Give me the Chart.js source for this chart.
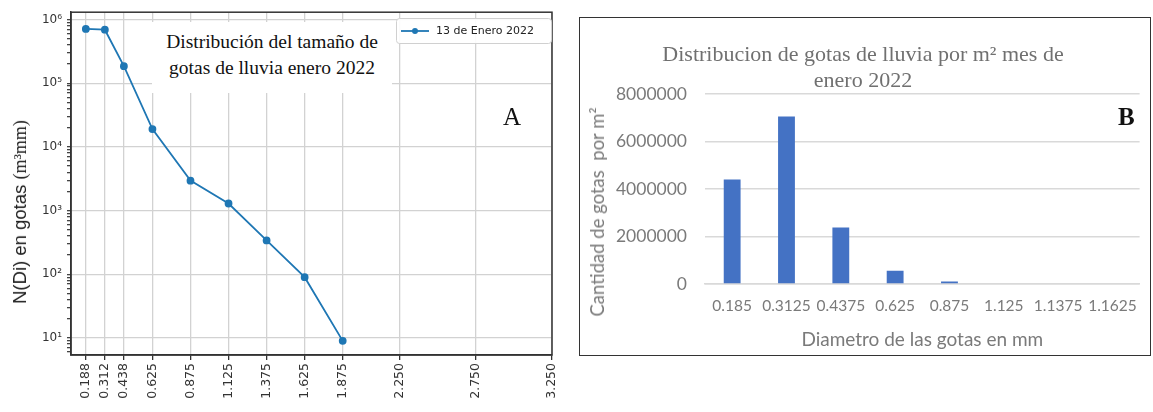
<!DOCTYPE html>
<html>
<head>
<meta charset="utf-8">
<script src="https://cdn.jsdelivr.net/npm/chart.js@4.4.1/dist/chart.umd.min.js"></script>
<style>
  html, body { margin: 0; padding: 0; background: #fff; }
  body { width: 1153px; height: 412px; position: relative; overflow: hidden; }
  #wrapA { position: absolute; left: 0; top: 0; width: 570px; height: 412px; }
  #wrapB { position: absolute; left: 579px; top: 17px; width: 572px; height: 339px;
           border: 1px solid #333; box-sizing: border-box; }
  #wrapB canvas { display: block; }
  .note { position: absolute; background: #fff; text-align: center; color: #111;
          font-family: "Liberation Serif", serif; }
  #titleA { left: 152px; top: 22px; width: 240px; height: 71px; font-size: 19.5px; line-height: 26px;
            padding-top: 7px; box-sizing: border-box; }
  #tagA { left: 503px; top: 103px; font-size: 25px; background: transparent; }
  #tagB { left: 1118px; top: 103px; font-size: 25px; font-weight: bold; background: transparent; }
  #yTitleA { position: absolute; left: 20px; top: 212px; white-space: nowrap; color: #222;
             transform: translate(-50%, -50%) rotate(-90deg); }
  #yTitleA .s { font-family: "Liberation Sans", sans-serif; font-size: 18.5px; }
  #yTitleA .r { font-family: "Liberation Serif", serif; font-size: 18px; }
  #yTitleB { position: absolute; left: 597px; top: 212px; color: #7a7a7a;
             font-family: Lato, sans-serif; font-size: 18.5px; white-space: pre;
             transform: translate(-50%, -50%) rotate(-90deg); }
</style>
</head>
<body>
<div id="wrapA"><canvas id="chartA" width="570" height="412"></canvas></div>
<div id="wrapB"><canvas id="chartB" width="570" height="337"></canvas></div>
<div class="note" id="titleA">Distribución del tamaño de<br>gotas de lluvia enero 2022</div>
<div class="note" id="tagA">A</div>
<div class="note" id="tagB">B</div>
<div id="yTitleA"><span class="s">N(Di) en gotas </span><span class="r">(m³mm)</span></div>
<div id="yTitleB">Cantidad de gotas  por m²</div>
<script>
// Panel A: drop size distribution, 13 January 2022 (log scale)
const diametersA = [0.1875, 0.3125, 0.4375, 0.625, 0.875, 1.125, 1.375, 1.625, 1.875];
const dropsA = [710000, 690000, 185000, 19000, 2950, 1290, 340, 90, 9];
const xTickValuesA = [0.1875, 0.3125, 0.4375, 0.625, 0.875, 1.125, 1.375, 1.625, 1.875, 2.25, 2.75, 3.25];
const xTickLabelsA = ['0.188', '0.312', '0.438', '0.625', '0.875', '1.125', '1.375', '1.625', '1.875', '2.250', '2.750', '3.250'];
const seriesLabelA = '13 de Enero 2022';

// Panel B: drops per m² for January 2022
const diametersB = ['0.185', '0.3125', '0.4375', '0.625', '0.875', '1.125', '1.1375', '1.1625'];
const dropsB = [4400000, 7050000, 2380000, 560000, 110000, 30000, 0, 0];
const yTickStepB = 2000000;
const yMaxB = 8000000;

const lineBlue = '#1f77b4';
const SUP = {'0':'⁰','1':'¹','2':'²','3':'³','4':'⁴','5':'⁵','6':'⁶','7':'⁷','8':'⁸','9':'⁹'};
const isDecade = v => Math.abs(Math.log10(v) - Math.round(Math.log10(v))) < 1e-9;

// log ticks: decades plus 2..9 multiples inside the axis range
const yMinA = 5.4, yMaxA = 1.3e6;
const yTicksA = [];
for (let e = 0; e <= 6; e++) {
  for (let m = 1; m <= 9; m++) {
    const v = m * Math.pow(10, e);
    if (v >= yMinA && v <= yMaxA) yTicksA.push(v);
  }
}

const framePlugin = {
  id: 'frame',
  afterDatasetsDraw(chart) {
    const { ctx, chartArea: a } = chart;
    ctx.save();
    ctx.strokeStyle = '#333';
    ctx.lineWidth = 1.5;
    ctx.strokeRect(a.left, a.top, a.right - a.left, a.bottom - a.top);
    ctx.restore();
  }
};

const boxLegendPlugin = {
  id: 'boxLegend',
  afterDraw(chart) {
    const { ctx } = chart;
    const ds = chart.data.datasets[0];
    const x = 396, y = 18, w = 155, h = 25;
    ctx.save();
    ctx.fillStyle = 'rgba(255,255,255,0.9)';
    ctx.strokeStyle = '#d0d0d0';
    ctx.lineWidth = 1;
    ctx.beginPath();
    ctx.roundRect(x + 0.5, y + 0.5, w, h, 3);
    ctx.fill();
    ctx.stroke();
    const cy = y + h / 2 + 0.5;
    ctx.strokeStyle = ds.borderColor;
    ctx.lineWidth = 1.8;
    ctx.beginPath();
    ctx.moveTo(x + 5, cy);
    ctx.lineTo(x + 33, cy);
    ctx.stroke();
    ctx.fillStyle = ds.borderColor;
    ctx.beginPath();
    ctx.arc(x + 19, cy, 3, 0, Math.PI * 2);
    ctx.fill();
    ctx.fillStyle = '#222';
    ctx.font = '11px "DejaVu Sans"';
    ctx.textBaseline = 'middle';
    ctx.fillText(ds.label, x + 40, cy);
    ctx.restore();
  }
};

new Chart(document.getElementById('chartA'), {
  type: 'line',
  data: {
    datasets: [{
      label: seriesLabelA,
      data: diametersA.map((d, i) => ({ x: d, y: dropsA[i] })),
      borderColor: lineBlue,
      backgroundColor: lineBlue,
      borderWidth: 1.8,
      pointRadius: 3,
      pointHoverRadius: 3,
      pointStyle: 'circle',
      tension: 0,
      fill: false
    }]
  },
  options: {
    responsive: false,
    animation: false,
    events: [],
    layout: { padding: { top: 11, right: 14, left: 0, bottom: 0 } },
    plugins: { legend: { display: false }, tooltip: { enabled: false } },
    scales: {
      x: {
        type: 'linear',
        min: 0.09,
        max: 3.25,
        afterBuildTicks: s => { s.ticks = xTickValuesA.map(v => ({ value: v })); },
        afterFit: s => { s.height = 57; },
        ticks: {
          autoSkip: false, minRotation: 90, maxRotation: 90, padding: 3,
          color: '#333', font: { family: 'DejaVu Sans', size: 12.5 },
          callback: (v, i) => xTickLabelsA[i]
        },
        grid: { color: '#d2d2d2', lineWidth: 1.3, tickColor: '#333', tickLength: 5 },
        border: { display: true, color: '#333', width: 1.5 }
      },
      y: {
        type: 'logarithmic',
        min: yMinA,
        max: yMaxA,
        afterBuildTicks: s => { s.ticks = yTicksA.map(v => ({ value: v })); },
        afterFit: s => { s.width = 71; },
        ticks: {
          autoSkip: false, padding: 5, color: '#333',
          font: { family: 'DejaVu Sans', size: 12 },
          callback: v => isDecade(v)
            ? '10' + String(Math.round(Math.log10(v))).split('').map(c => SUP[c]).join('')
            : ''
        },
        grid: {
          color: c => (c.tick && isDecade(c.tick.value)) ? '#d2d2d2' : 'rgba(0,0,0,0)',
          lineWidth: 1.3,
          tickColor: '#444',
          tickLength: 4
        },
        border: { display: true, color: '#333', width: 1.5 }
      }
    }
  },
  plugins: [framePlugin, boxLegendPlugin]
});

const greyText = '#7a7a7a';
new Chart(document.getElementById('chartB'), {
  type: 'bar',
  data: {
    labels: diametersB,
    datasets: [{
      data: dropsB,
      backgroundColor: '#4472c4',
      borderWidth: 0,
      barPercentage: 0.31,
      categoryPercentage: 1
    }]
  },
  options: {
    responsive: false,
    animation: false,
    events: [],
    layout: { padding: { left: 0, right: 4, top: 0, bottom: 0 } },
    plugins: {
      legend: { display: false },
      tooltip: { enabled: false },
      title: {
        display: true,
        text: ['Distribucion de gotas de lluvia por m² mes de', 'enero 2022'],
        color: '#707070',
        font: { family: 'Liberation Serif', size: 22, weight: 'normal', lineHeight: '26px' },
        padding: { top: 24, bottom: 0 }
      }
    },
    scales: {
      x: {
        grid: { display: false, drawTicks: false },
        border: { display: true, color: '#d9d9d9', width: 1.5 },
        ticks: { color: greyText, font: { family: 'Lato', size: 15.5 }, padding: 13, autoSkip: false, maxRotation: 0 },
        title: { display: true, text: 'Diametro de las gotas en mm', color: greyText,
                 font: { family: 'Lato', size: 19 }, padding: { top: 0, bottom: 4 } },
        afterFit: s => { s.height = 71; }
      },
      y: {
        min: 0,
        max: yMaxB,
        ticks: { stepSize: yTickStepB, color: greyText, font: { family: 'Lato', size: 17.5 }, padding: 18,
                 callback: v => String(v) },
        grid: { color: '#d9d9d9', lineWidth: 1.5, drawTicks: false },
        border: { display: false },
        afterFit: s => { s.width = 125; }
      }
    }
  }
});
</script>
</body>
</html>
